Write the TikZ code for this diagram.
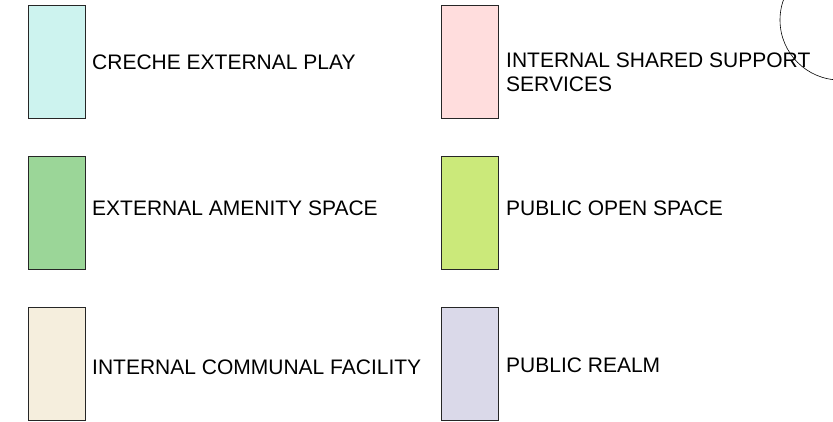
\documentclass[tikz,border=0pt]{standalone}
\usepackage{fontspec}
\setmainfont{Liberation Sans}
\definecolor{crecheCol}{RGB}{205,243,239}
\definecolor{sharedCol}{RGB}{255,221,221}
\definecolor{amenityCol}{RGB}{155,214,152}
\definecolor{openCol}{RGB}{203,233,122}
\definecolor{communalCol}{RGB}{245,238,221}
\definecolor{realmCol}{RGB}{218,217,233}
\tikzset{
	swatch/.style={draw=black!85, line width=0.8pt, anchor=north west, minimum width=57pt, minimum height=113pt, inner sep=0pt},
	keylabel/.style={anchor=base west, inner sep=0pt, align=left, font=\fontsize{21}{24}\selectfont}
}
\begin{document}
\begin{tikzpicture}[x=1pt,y=-1pt]
	\useasboundingbox (0,0) rectangle (833,422);
	\begin{scope}
	\node[swatch, fill=crecheCol] (creche) at (28,5) {};
	\node[swatch, fill=amenityCol] (amenity) at (28,156) {};
	\node[swatch, fill=communalCol] (communal) at (28,307) {};
	\node[swatch, fill=sharedCol] (shared) at (441,5) {};
	\node[swatch, fill=openCol] (open) at (441,156) {};
	\node[swatch, fill=realmCol] (realm) at (441,307) {};
	\end{scope}
	\begin{scope}[every node/.style={keylabel}]
	\node (crecheTxt) at (92,70) {CRECHE EXTERNAL PLAY};
	\node (amenityTxt) at (92,216) {EXTERNAL AMENITY SPACE};
	\node (communalTxt) at (92,374) {INTERNAL COMMUNAL FACILITY};
	\node (sharedTxt) at (506,92) {INTERNAL SHARED SUPPORT\\SERVICES};% base = last line
	\node (openTxt) at (506,216) {PUBLIC OPEN SPACE};
	\node (realmTxt) at (506,372) {PUBLIC REALM};
	\end{scope}
	% part of a circle cut by the edge
	\begin{scope}
	\clip (0,0) rectangle (833,422);
	\draw[line width=0.6pt] (840,20) circle (60);
	\end{scope}
\end{tikzpicture}
\end{document}
